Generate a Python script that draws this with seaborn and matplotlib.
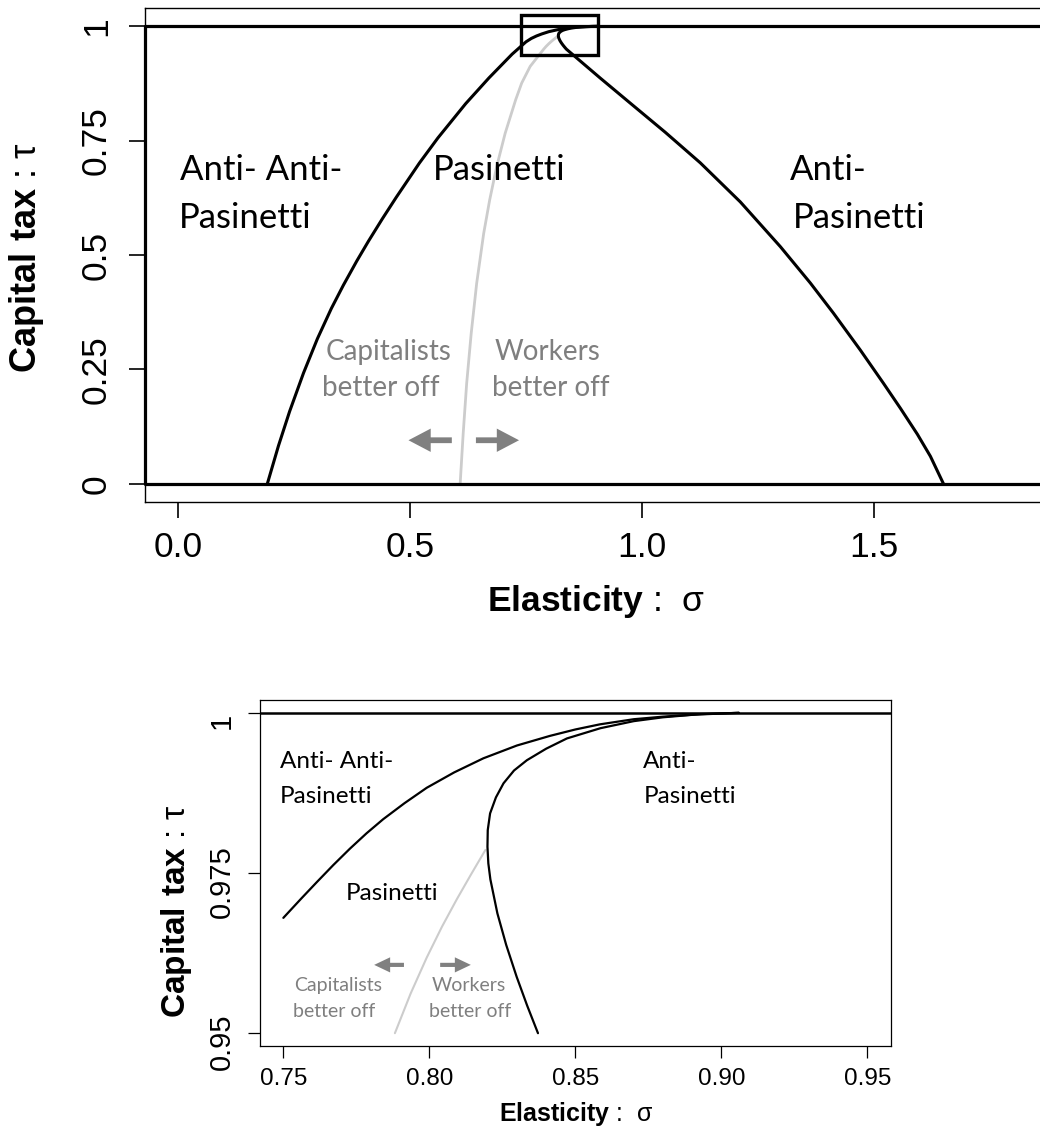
import numpy as np
import pandas as pd
import matplotlib
matplotlib.use("Agg")
import matplotlib.pyplot as plt
import matplotlib.transforms as mtransforms
import seaborn as sns

# ---------------- data ----------------
# Top panel: full view
top_left_sigma = [0.192, 0.216, 0.240, 0.270, 0.300, 0.330, 0.356, 0.385, 0.410, 0.440, 0.470,
                  0.520, 0.560, 0.620, 0.670, 0.720, 0.750, 0.7614, 0.7728, 0.7842, 0.7991,
                  0.8185, 0.8413, 0.8584, 0.880, 0.906]
top_left_tau = [0.0, 0.083, 0.158, 0.242, 0.317, 0.383, 0.434, 0.487, 0.530, 0.579, 0.626,
                0.701, 0.756, 0.831, 0.887, 0.939, 0.966, 0.9734, 0.9789, 0.9833, 0.9882,
                0.9926, 0.9965, 0.9983, 0.9993, 1.0]

top_right_sigma = [0.906, 0.893, 0.880, 0.870, 0.8586, 0.8471, 0.840, 0.8334, 0.8290, 0.8254,
                   0.8228, 0.8208, 0.8200, 0.8199, 0.8202, 0.8209, 0.8233, 0.8263, 0.8299,
                   0.8335, 0.8372, 0.873, 0.910, 0.975, 1.0505, 1.1261, 1.2124, 1.2988,
                   1.3635, 1.4132, 1.4715, 1.5211, 1.5578, 1.5945, 1.6226, 1.6507]
top_right_tau = [1.0, 0.9998, 0.9993, 0.9987, 0.9976, 0.9960, 0.9944, 0.9926, 0.9910, 0.9890,
                 0.9868, 0.9843, 0.9817, 0.9791, 0.9765, 0.9740, 0.9687, 0.9638, 0.9588,
                 0.9543, 0.950, 0.919, 0.887, 0.832, 0.7683, 0.7015, 0.6161, 0.5183,
                 0.4388, 0.3731, 0.2920, 0.2198, 0.1650, 0.1081, 0.0599, 0.0]

top_gray_sigma = [0.608, 0.6145, 0.622, 0.6318, 0.6436, 0.6588, 0.6717, 0.6868, 0.7052,
                  0.7278, 0.7408, 0.7591, 0.7882, 0.7936, 0.7991, 0.8043, 0.8094, 0.8143, 0.8192]
top_gray_tau = [0.0, 0.1095, 0.219, 0.3285, 0.438, 0.5475, 0.6205, 0.6934, 0.7665,
                0.8395, 0.876, 0.9124, 0.950, 0.9562, 0.9618, 0.9666, 0.9709, 0.9748, 0.9786]

left_bound_sigma = [-0.072, -0.072]
left_bound_tau = [0.0, 1.0]
bound_tau = [0.0, 1.0]

zoom_box_sigma = [0.739, 0.905]
zoom_box_tau = [0.938, 1.0256]

# Bottom panel: zoom
zoom_left_sigma = [0.750, 0.756, 0.7614, 0.7671, 0.7728, 0.7785, 0.7842, 0.7915, 0.7991,
                   0.8085, 0.8185, 0.830, 0.8413, 0.850, 0.8584, 0.870, 0.880, 0.890, 0.906]
zoom_left_tau = [0.968, 0.97095, 0.97355, 0.97624, 0.97880, 0.9812, 0.9834, 0.9859, 0.9883,
                 0.9907, 0.9929, 0.9949, 0.9964, 0.9974, 0.9982, 0.9990, 0.9994, 0.9997, 1.0]

zoom_right_sigma = [0.906, 0.893, 0.880, 0.870, 0.8586, 0.8471, 0.840, 0.8334, 0.8290, 0.8254,
                    0.8228, 0.8208, 0.8200, 0.8199, 0.8202, 0.8209, 0.8233, 0.8263, 0.8299,
                    0.8335, 0.8372]
zoom_right_tau = [1.0, 0.9998, 0.9993, 0.9987, 0.9976, 0.9960, 0.9944, 0.9926, 0.9910, 0.9890,
                  0.9868, 0.9843, 0.9817, 0.9791, 0.9765, 0.9740, 0.9687, 0.9638, 0.9588,
                  0.9543, 0.950]

zoom_gray_sigma = [0.7882, 0.7936, 0.7991, 0.8043, 0.8094, 0.8143, 0.8192]
zoom_gray_tau = [0.950, 0.9562, 0.9618, 0.9666, 0.9709, 0.9748, 0.9786]

top_xticks = [0.0, 0.5, 1.0, 1.5]
top_xticklabels = ["0.0", "0.5", "1.0", "1.5"]
top_yticks = [0.0, 0.25, 0.5, 0.75, 1.0]
top_yticklabels = ["0", "0.25", "0.5", "0.75", "1"]
zoom_xticks = [0.75, 0.80, 0.85, 0.90, 0.95]
zoom_xticklabels = ["0.75", "0.80", "0.85", "0.90", "0.95"]
zoom_yticks = [0.95, 0.975, 1.0]
zoom_yticklabels = ["0.95", "0.975", "1"]

# region labels: (sigma, tau, text)
top_black_labels = [(0.004, 0.686, "Anti- Anti-"), (0.002, 0.581, "Pasinetti"),
                    (0.550, 0.686, "Pasinetti"),
                    (1.320, 0.686, "Anti-"), (1.325, 0.581, "Pasinetti")]
top_gray_labels = [(0.317, 0.288, "Capitalists"), (0.310, 0.209, "better off"),
                   (0.683, 0.288, "Workers"), (0.677, 0.209, "better off")]
top_arrows = [(0.590, 0.4965, 0.095), (0.642, 0.735, 0.095)]  # tail, head, tau

zoom_black_labels = [(0.7489, 0.99236, "Anti- Anti-"), (0.7486, 0.98701, "Pasinetti"),
                     (0.7715, 0.97184, "Pasinetti"),
                     (0.8731, 0.99236, "Anti-"), (0.8735, 0.98701, "Pasinetti")]
zoom_gray_labels = [(0.7537, 0.95738, "Capitalists"), (0.7532, 0.95338, "better off"),
                    (0.8008, 0.95738, "Workers"), (0.8000, 0.95338, "better off")]
zoom_arrows = [(0.7913, 0.7811, 0.96066), (0.8037, 0.8142, 0.96066)]

# ---------------- style ----------------
sns.set_theme(style="white")
plt.rcParams["font.family"] = ["Liberation Sans", "DejaVu Sans"]
plt.rcParams["mathtext.fontset"] = "custom"
plt.rcParams["mathtext.rm"] = "Liberation Sans"
plt.rcParams["mathtext.bf"] = "Liberation Sans:bold"
plt.rcParams["axes.edgecolor"] = "black"
plt.rcParams["axes.linewidth"] = 1.0
plt.rcParams["text.color"] = "black"
plt.rcParams["xtick.color"] = "black"
plt.rcParams["ytick.color"] = "black"
plt.rcParams["xtick.labelcolor"] = "black"
plt.rcParams["ytick.labelcolor"] = "black"

REGION_FONT = ["Lato", "DejaVu Sans"]
GRAY_TXT = "#7f7f7f"
GRAY_LINE = "#cccccc"
ARROW_COL = "#808080"

W, H = 1040, 1130
fig = plt.figure(figsize=(W / 100, H / 100), dpi=100)
fig.patch.set_facecolor("white")

ax1 = fig.add_axes([145 / W, 1 - 502 / H, 901 / W, 494 / H])
ax2 = fig.add_axes([260 / W, 1 - 1046 / H, 630.7 / W, 346 / H])

# ---------------- top panel ----------------
for t in bound_tau:
    ax1.axhline(t, color="black", lw=2.3, zorder=3)
sns.lineplot(x=left_bound_sigma, y=left_bound_tau, ax=ax1, color="black", lw=2.3,
             sort=False, estimator=None, clip_on=False, zorder=3)
sns.lineplot(x=top_gray_sigma, y=top_gray_tau, ax=ax1, color=GRAY_LINE, lw=2.0,
             sort=False, estimator=None, zorder=2)
sns.lineplot(x=top_left_sigma, y=top_left_tau, ax=ax1, color="black", lw=2.2,
             sort=False, estimator=None, zorder=3)
sns.lineplot(x=top_right_sigma, y=top_right_tau, ax=ax1, color="black", lw=2.2,
             sort=False, estimator=None, zorder=3)
ax1.add_patch(plt.Rectangle((zoom_box_sigma[0], zoom_box_tau[0]),
                            zoom_box_sigma[1] - zoom_box_sigma[0],
                            zoom_box_tau[1] - zoom_box_tau[0],
                            fill=False, ec="black", lw=2.4, zorder=4))

for s, t, txt in top_black_labels:
    ax1.text(s, t, txt, fontsize=25, family=REGION_FONT, color="black", ha="left", va="center")
for s, t, txt in top_gray_labels:
    ax1.text(s, t, txt, fontsize=20, family=REGION_FONT, color=GRAY_TXT, ha="left", va="center")
for tail, head, t in top_arrows:
    ax1.annotate("", xy=(head, t), xytext=(tail, t),
                 arrowprops=dict(arrowstyle="simple,head_length=1.0,head_width=1.05,tail_width=0.26",
                                 color=ARROW_COL, lw=0, mutation_scale=16, shrinkA=0, shrinkB=0))

ax1.set_xlim(-0.072, 1.872)
ax1.set_ylim(-0.04, 1.04)
ax1.set_xticks(top_xticks)
ax1.set_xticklabels(top_xticklabels)
ax1.set_yticks(top_yticks)
ax1.set_yticklabels(top_yticklabels, rotation=90, va="center")
ax1.tick_params(axis="both", which="major", direction="out", length=11.5, width=1.2,
                labelsize=25.5, colors="black", bottom=True, left=True)
ax1.tick_params(axis="x", pad=9.5)
ax1.tick_params(axis="y", pad=11.5)
ax1.set_xlabel("")
ax1.set_ylabel("")
for sp in ax1.spines.values():
    sp.set_visible(True)
    sp.set_color("black")
    sp.set_linewidth(1.0)

fig.text(27 / W, 1 - 258 / H, r"$\mathbf{Capital\ tax}$ : τ", rotation=90, fontsize=26,
         ha="center", va="center", color="black")
fig.text(596 / W, 1 - 601 / H, r"$\mathbf{Elasticity}$ :  σ", fontsize=25.5,
         ha="center", va="center", color="black")

# ---------------- bottom panel ----------------
ax2.axhline(bound_tau[1], color="black", lw=1.8, zorder=3)
sns.lineplot(x=zoom_gray_sigma, y=zoom_gray_tau, ax=ax2, color=GRAY_LINE, lw=1.5,
             sort=False, estimator=None, zorder=2)
sns.lineplot(x=zoom_left_sigma, y=zoom_left_tau, ax=ax2, color="black", lw=1.6,
             sort=False, estimator=None, zorder=3)
sns.lineplot(x=zoom_right_sigma, y=zoom_right_tau, ax=ax2, color="black", lw=1.6,
             sort=False, estimator=None, zorder=3)

for s, t, txt in zoom_black_labels:
    ax2.text(s, t, txt, fontsize=17.5, family=REGION_FONT, color="black", ha="left", va="center")
for s, t, txt in zoom_gray_labels:
    ax2.text(s, t, txt, fontsize=14, family=REGION_FONT, color=GRAY_TXT, ha="left", va="center")
for tail, head, t in zoom_arrows:
    ax2.annotate("", xy=(head, t), xytext=(tail, t),
                 arrowprops=dict(arrowstyle="simple,head_length=1.0,head_width=0.95,tail_width=0.26",
                                 color=ARROW_COL, lw=0, mutation_scale=11.5, shrinkA=0, shrinkB=0))

ax2.set_xlim(0.742, 0.958)
ax2.set_ylim(0.948, 1.002)
ax2.set_xticks(zoom_xticks)
ax2.set_xticklabels(zoom_xticklabels)
ax2.set_yticks(zoom_yticks)
ax2.set_yticklabels(zoom_yticklabels, rotation=90, va="center")
ax2.tick_params(axis="both", which="major", direction="out", length=8.4, width=0.9,
                colors="black", bottom=True, left=True)
ax2.tick_params(axis="x", labelsize=17.5, pad=7.5)
ax2.tick_params(axis="y", labelsize=21, pad=9)
ax2.set_xlabel("")
ax2.set_ylabel("")
for sp in ax2.spines.values():
    sp.set_visible(True)
    sp.set_color("black")
    sp.set_linewidth(0.9)
shift = mtransforms.ScaledTranslation(0, -6 / 72, fig.dpi_scale_trans)
for lab in ax2.get_yticklabels():
    lab.set_transform(lab.get_transform() + shift)

fig.text(177 / W, 1 - 911 / H, r"$\mathbf{Capital\ tax}$ : τ", rotation=90, fontsize=24,
         ha="center", va="center", color="black")
fig.text(576 / W, 1 - 1114 / H, r"$\mathbf{Elasticity}$ :  σ", fontsize=18,
         ha="center", va="center", color="black")

fig.savefig("out.png", dpi=100, facecolor="white")
